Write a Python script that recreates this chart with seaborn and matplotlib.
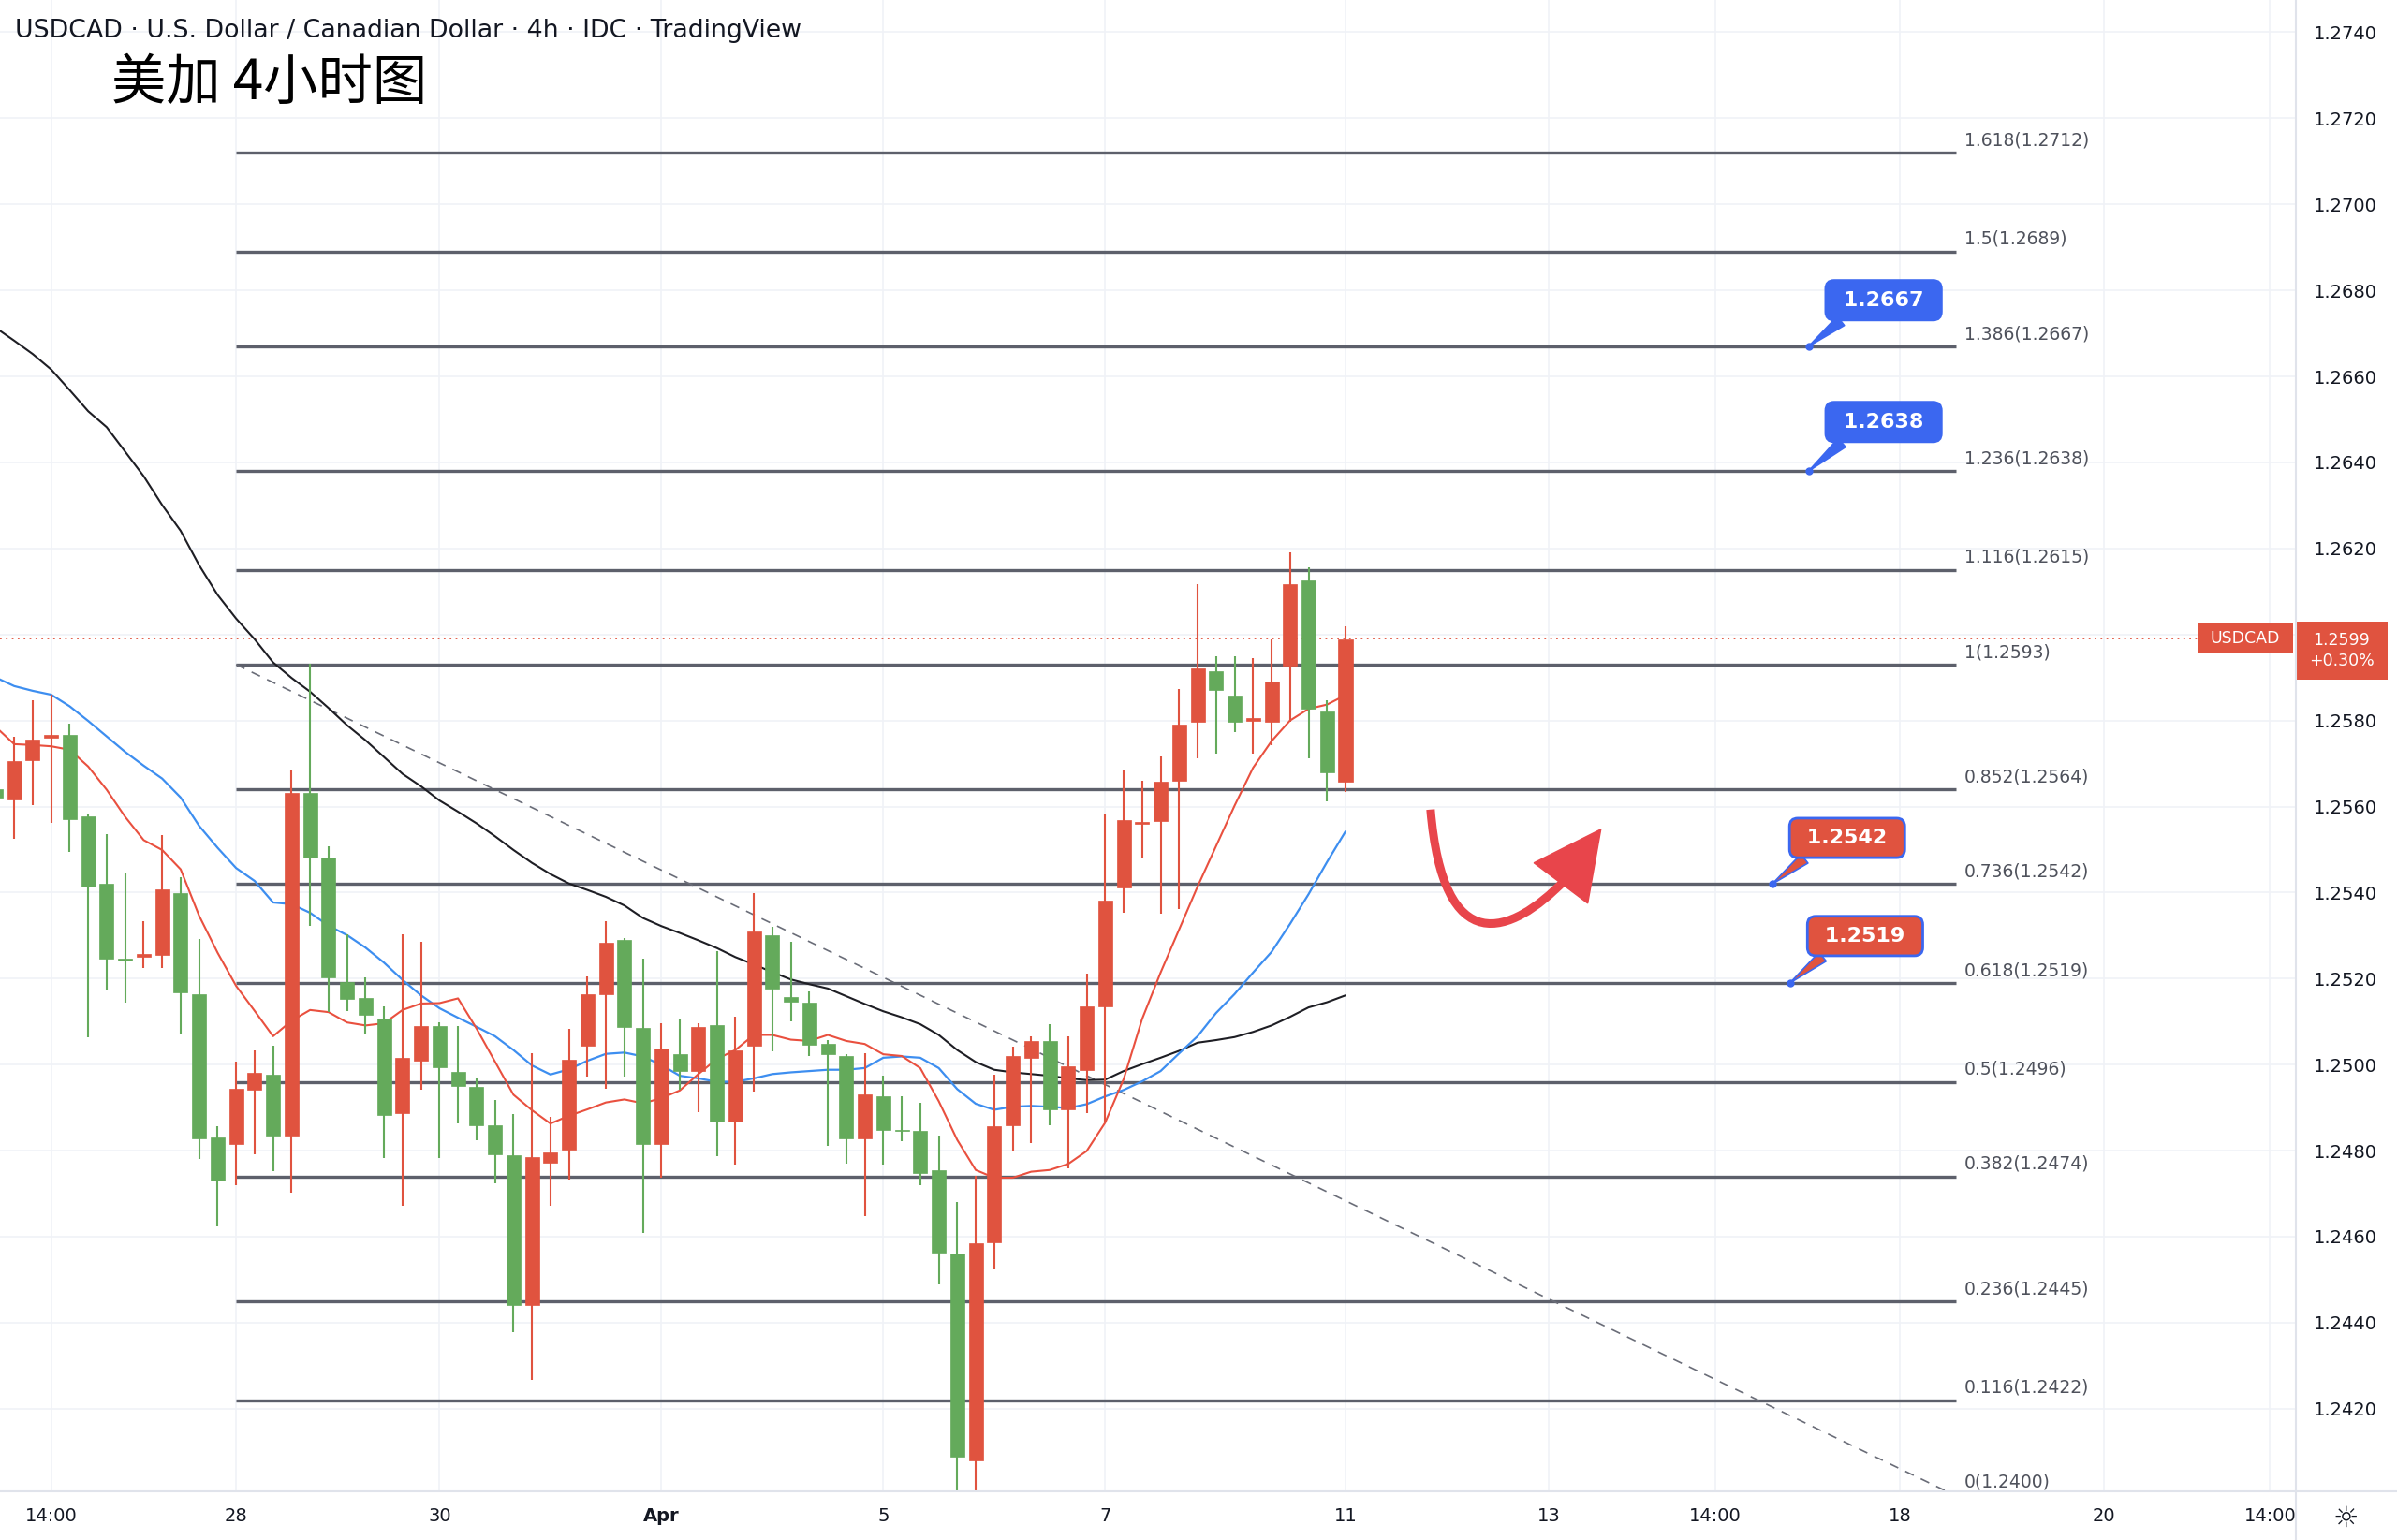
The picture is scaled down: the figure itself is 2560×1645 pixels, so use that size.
import numpy as np
import pandas as pd
import matplotlib
matplotlib.use("Agg")
import matplotlib.pyplot as plt
import matplotlib.transforms as mtransforms
from matplotlib.patches import PathPatch, Polygon, Rectangle
from matplotlib.lines import Line2D
from matplotlib.path import Path
import seaborn as sns

# === data: USDCAD 4h candles (red = up, green = down) ===
candle_idx = list(range(-1, 73))
opens = [1.25640, 1.25617, 1.25707, 1.25759, 1.25767, 1.25578, 1.25420, 1.25247, 1.25250, 1.25254,
         1.25399, 1.25163, 1.24831, 1.24816, 1.24942, 1.24976, 1.24834, 1.25631, 1.25482, 1.25192,
         1.25154, 1.25108, 1.24887, 1.25010, 1.25090, 1.24982, 1.24949, 1.24858, 1.24790, 1.24441,
         1.24771, 1.24802, 1.25043, 1.25163, 1.25290, 1.25085, 1.24815, 1.25024, 1.24985, 1.25092,
         1.24868, 1.25044, 1.25300, 1.25157, 1.25144, 1.25048, 1.25020, 1.24829, 1.24927, 1.24849,
         1.24846, 1.24754, 1.24560, 1.24079, 1.24587, 1.24860, 1.25016, 1.25055, 1.24895, 1.24988,
         1.25136, 1.25412, 1.25559, 1.25566, 1.25660, 1.25796, 1.25915, 1.25859, 1.25799, 1.25798,
         1.25927, 1.26125, 1.25821, 1.25658]
highs = [1.25660, 1.25763, 1.25847, 1.25860, 1.25793, 1.25582, 1.25535, 1.25445, 1.25334, 1.25534,
         1.25436, 1.25292, 1.24856, 1.25007, 1.25033, 1.25043, 1.25684, 1.25933, 1.25507, 1.25304,
         1.25203, 1.25135, 1.25302, 1.25286, 1.25098, 1.25089, 1.24967, 1.24917, 1.24885, 1.25027,
         1.24878, 1.25084, 1.25204, 1.25333, 1.25295, 1.25247, 1.25097, 1.25105, 1.25097, 1.25264,
         1.25111, 1.25398, 1.25320, 1.25286, 1.25170, 1.25058, 1.25024, 1.25027, 1.24974, 1.24927,
         1.24911, 1.24836, 1.24681, 1.24741, 1.24977, 1.25041, 1.25065, 1.25094, 1.25065, 1.25211,
         1.25584, 1.25685, 1.25660, 1.25717, 1.25874, 1.26117, 1.25950, 1.25950, 1.25944, 1.25989,
         1.26191, 1.26156, 1.25846, 1.26019]
lows = [1.25600, 1.25525, 1.25603, 1.25563, 1.25494, 1.25063, 1.25174, 1.25143, 1.25224, 1.25224,
        1.25073, 1.24781, 1.24623, 1.24719, 1.24792, 1.24752, 1.24703, 1.25323, 1.25122, 1.25124,
        1.25073, 1.24783, 1.24672, 1.24941, 1.24783, 1.24863, 1.24824, 1.24723, 1.24379, 1.24266,
        1.24672, 1.24732, 1.24973, 1.24943, 1.24972, 1.24609, 1.24737, 1.24941, 1.24890, 1.24787,
        1.24768, 1.24938, 1.25030, 1.25100, 1.25021, 1.24811, 1.24769, 1.24648, 1.24768, 1.24821,
        1.24720, 1.24489, 1.24003, 1.24007, 1.24525, 1.24798, 1.24818, 1.24860, 1.24759, 1.24888,
        1.24867, 1.25354, 1.25480, 1.25350, 1.25361, 1.25713, 1.25724, 1.25773, 1.25724, 1.25742,
        1.25796, 1.25713, 1.25612, 1.25633]
closes = [1.25620, 1.25705, 1.25756, 1.25767, 1.25570, 1.25413, 1.25247, 1.25242, 1.25257, 1.25407,
          1.25167, 1.24829, 1.24730, 1.24944, 1.24980, 1.24834, 1.25631, 1.25481, 1.25203, 1.25152,
          1.25116, 1.24883, 1.25015, 1.25090, 1.24994, 1.24951, 1.24858, 1.24792, 1.24441, 1.24786,
          1.24795, 1.25012, 1.25163, 1.25283, 1.25087, 1.24815, 1.25038, 1.24985, 1.25087, 1.24868,
          1.25034, 1.25310, 1.25177, 1.25147, 1.25046, 1.25024, 1.24829, 1.24931, 1.24849, 1.24845,
          1.24748, 1.24563, 1.24089, 1.24585, 1.24857, 1.25020, 1.25055, 1.24895, 1.24996, 1.25136,
          1.25381, 1.25568, 1.25565, 1.25657, 1.25791, 1.25922, 1.25870, 1.25796, 1.25806, 1.25891,
          1.26116, 1.25828, 1.25679, 1.25989]

# moving averages (red fast, blue medium, black slow)
ma_fast = [1.25785, 1.25745, 1.25743, 1.25740, 1.25732, 1.25693, 1.25639, 1.25576, 1.25522, 1.25499,
           1.25454, 1.25346, 1.25260, 1.25183, 1.25125, 1.25066, 1.25102, 1.25127, 1.25122, 1.25098,
           1.25091, 1.25096, 1.25127, 1.25142, 1.25143, 1.25154, 1.25084, 1.25007, 1.24930, 1.24894,
           1.24863, 1.24881, 1.24896, 1.24912, 1.24919, 1.24910, 1.24922, 1.24940, 1.24978, 1.25013,
           1.25034, 1.25069, 1.25069, 1.25058, 1.25055, 1.25069, 1.25055, 1.25048, 1.25024, 1.25020,
           1.24992, 1.24915, 1.24825, 1.24755, 1.24737, 1.24737, 1.24751, 1.24755, 1.24769, 1.24799,
           1.24865, 1.24966, 1.25106, 1.25214, 1.25314, 1.25414, 1.25508, 1.25602, 1.25690, 1.25752,
           1.25800, 1.25827, 1.25837, 1.25859]
ma_mid = [1.25900, 1.25880, 1.25869, 1.25860, 1.25833, 1.25799, 1.25763, 1.25727, 1.25695, 1.25665,
          1.25621, 1.25555, 1.25504, 1.25457, 1.25427, 1.25377, 1.25373, 1.25353, 1.25323, 1.25301,
          1.25272, 1.25237, 1.25197, 1.25161, 1.25131, 1.25109, 1.25088, 1.25066, 1.25034, 1.24998,
          1.24977, 1.24989, 1.25009, 1.25025, 1.25028, 1.25019, 1.24999, 1.24974, 1.24968, 1.24960,
          1.24960, 1.24968, 1.24978, 1.24982, 1.24985, 1.24988, 1.24988, 1.24992, 1.25016, 1.25019,
          1.25016, 1.24992, 1.24943, 1.24909, 1.24895, 1.24902, 1.24904, 1.24902, 1.24899, 1.24908,
          1.24926, 1.24941, 1.24961, 1.24985, 1.25026, 1.25066, 1.25120, 1.25164, 1.25214, 1.25262,
          1.25327, 1.25396, 1.25471, 1.25542]
ma_slow = [1.26713, 1.26683, 1.26652, 1.26616, 1.26568, 1.26519, 1.26482, 1.26425, 1.26368, 1.26301,
           1.26241, 1.26161, 1.26092, 1.26037, 1.25989, 1.25935, 1.25899, 1.25867, 1.25829, 1.25789,
           1.25754, 1.25715, 1.25676, 1.25647, 1.25614, 1.25588, 1.25561, 1.25531, 1.25499, 1.25469,
           1.25443, 1.25421, 1.25406, 1.25390, 1.25370, 1.25341, 1.25322, 1.25306, 1.25289, 1.25271,
           1.25250, 1.25233, 1.25215, 1.25198, 1.25187, 1.25177, 1.25159, 1.25141, 1.25124, 1.25110,
           1.25094, 1.25069, 1.25034, 1.25006, 1.24988, 1.24982, 1.24978, 1.24974, 1.24968, 1.24964,
           1.24965, 1.24985, 1.25001, 1.25016, 1.25032, 1.25051, 1.25057, 1.25064, 1.25076, 1.25091,
           1.25111, 1.25133, 1.25145, 1.25161]

# fibonacci extension levels
fib_labels = ["1.618(1.2712)", "1.5(1.2689)", "1.386(1.2667)", "1.236(1.2638)", "1.116(1.2615)",
              "1(1.2593)", "0.852(1.2564)", "0.736(1.2542)", "0.618(1.2519)", "0.5(1.2496)",
              "0.382(1.2474)", "0.236(1.2445)", "0.116(1.2422)", "0(1.2400)"]
fib_prices = [1.2712, 1.2689, 1.2667, 1.2638, 1.2615, 1.2593, 1.2564, 1.2542, 1.2519, 1.2496,
              1.2474, 1.2445, 1.2422, 1.2400]

trend_x = [12, 104.9]
trend_y = [1.2593, 1.2400]

last_price = 1.2599
last_change = "+0.30%"

xtick_pos = [2, 12, 23, 35, 47, 59, 72, 83, 92, 102, 113, 122]
xtick_labels = ["14:00", "28", "30", "Apr", "5", "7", "11", "13", "14:00", "18", "20", "14:00"]

# callouts: text, anchor (idx, price), box centre (idx, price), box colour, border colour
callouts = [
    ("1.2667", (97.05, 1.2667), (101.1, 1.26777), "#3b67f0", "#3b67f0"),
    ("1.2638", (97.05, 1.2638), (101.1, 1.26494), "#3b67f0", "#3b67f0"),
    ("1.2542", (95.08, 1.2542), (99.13, 1.25527), "#e0533f", "#3b67f0"),
    ("1.2519", (96.04, 1.2519), (100.1, 1.25299), "#e0533f", "#3b67f0"),
]

UP = "#e0533f"
DOWN = "#64aa5b"
ARROW_RED = "#e8454b"
TXT = "#131722"

df = pd.DataFrame({"idx": candle_idx, "open": opens, "high": highs, "low": lows, "close": closes,
                   "ma_fast": ma_fast, "ma_mid": ma_mid, "ma_slow": ma_slow})
df["color"] = np.where(df["close"] >= df["open"], UP, DOWN)

sns.set_theme(style="white")
plt.rcParams["font.family"] = ["DejaVu Sans", "Noto Sans CJK SC"]

W, H = 2560, 1645
fig = plt.figure(figsize=(W / 100, H / 100), dpi=100)
ax = fig.add_axes([0, 52 / H, 2452 / W, 1593 / H])
ax.set_xlim(-0.77, 123.4)
ax.set_ylim(1.24008, 1.27475)

# grid
yticks = np.round(np.arange(1.2420, 1.27401, 0.002), 4)
ax.set_yticks(yticks)
ax.set_xticks(xtick_pos)
ax.grid(True, color="#f0f2f7", lw=1.2)
ax.set_axisbelow(True)

# fib levels
ax.hlines(fib_prices, 12, 105, color="#5d606b", lw=2.4, zorder=2)
for lab, p in zip(fib_labels, fib_prices):
    ax.text(105.45, p + 0.00029, lab, fontsize=13.5, color="#4f525c", ha="left", va="center", zorder=3)

# trend line
ax.plot(trend_x, trend_y, ls=(0, (6, 5)), color="#6a6d78", lw=1.2, zorder=2)

# moving averages
sns.lineplot(data=df, x="idx", y="ma_slow", ax=ax, color="#1e1e24", lw=1.5, legend=False, zorder=3)
sns.lineplot(data=df, x="idx", y="ma_mid", ax=ax, color="#3d8ef0", lw=1.6, legend=False, zorder=3)
sns.lineplot(data=df, x="idx", y="ma_fast", ax=ax, color="#e9503f", lw=1.5, legend=False, zorder=3)

# candles
ax.vlines(df["idx"], df["low"], df["high"], colors=df["color"], lw=1.5, zorder=4)
body_lo = df[["open", "close"]].min(axis=1)
body_h = (df["close"] - df["open"]).abs().clip(lower=0.00003)
ax.bar(df["idx"], body_h, bottom=body_lo, width=0.76, color=df["color"], edgecolor=df["color"],
       lw=0.5, zorder=4)

# last price line
ax.axhline(last_price, color=UP, ls=(0, (1, 2.5)), lw=1.3, zorder=2)

# projected move arrow
curve = Path([(76.60, 1.25593), (77.29, 1.25241), (80.92, 1.25299), (83.87, 1.25429)],
             [Path.MOVETO, Path.CURVE4, Path.CURVE4, Path.CURVE4])
ax.add_patch(PathPatch(curve, fc="none", ec=ARROW_RED, lw=6.5, capstyle="butt", zorder=5))
ax.add_patch(Polygon([(85.81, 1.25547), (82.19, 1.25469), (85.10, 1.25375)], closed=True,
                     fc=ARROW_RED, ec=ARROW_RED, zorder=5))

# callouts
for txt, xy, xyt, fc, ec in callouts:
    ax.annotate(f" {txt} ", xy=xy, xytext=xyt, ha="center", va="center", color="white",
                fontsize=16, fontweight="bold", zorder=6,
                bbox=dict(boxstyle="round,pad=0.5,rounding_size=0.4", fc=fc, ec=ec, lw=2),
                arrowprops=dict(arrowstyle="wedge,tail_width=0.55,shrink_factor=0.5", fc=fc, ec=ec,
                                lw=1.2, shrinkA=0, shrinkB=0, relpos=(0.2, 0.0)))
    ax.plot(*xy, "o", ms=5, color="#3b67f0", zorder=7)

# axes styling: the price tag hides the scale label next to it, as in TradingView
ax.yaxis.tick_right()
ax.set_yticklabels(["" if abs(t - last_price) < 0.0005 else f"{t:.4f}" for t in yticks])
ax.set_xticklabels(xtick_labels)
ax.tick_params(axis="y", length=0, pad=13.7, labelsize=14, labelcolor=TXT)
ax.tick_params(axis="x", length=0, pad=12, labelsize=14, labelcolor=TXT)
for t in ax.get_xticklabels():
    if t.get_text() == "Apr":
        t.set_fontweight("bold")
ax.set_xlabel("")
ax.set_ylabel("")
for s in ["top", "left", "right", "bottom"]:
    ax.spines[s].set_visible(False)
fig.add_artist(Line2D([2452 / W] * 2, [0, 1], transform=fig.transFigure, color="#e0e3eb", lw=1.5))
fig.add_artist(Line2D([0, 1], [52 / H] * 2, transform=fig.transFigure, color="#e0e3eb", lw=1.5))

# last price tags
tr = mtransforms.blended_transform_factory(fig.transFigure, ax.transData)
ax.add_patch(Rectangle((2348 / W, last_price - 0.00034), 101 / W, 0.00069, transform=tr,
                       fc=UP, ec="none", clip_on=False, zorder=8))
ax.text(2398 / W, last_price, "USDCAD", transform=tr, color="white", fontsize=12.5,
        ha="center", va="center", clip_on=False, zorder=9)
ax.add_patch(Rectangle((2453 / W, 1.25895), 97 / W, 0.00134, transform=tr,
                       fc=UP, ec="none", clip_on=False, zorder=8))
ax.text(2501 / W, 1.25962, f"{last_price:.4f}\n{last_change}", transform=tr, color="white",
        fontsize=12.5, ha="center", va="center", linespacing=1.3, clip_on=False, zorder=9)

# titles
fig.text(16 / W, 1 - 33 / H, "USDCAD · U.S. Dollar / Canadian Dollar · 4h · IDC · TradingView",
         fontsize=19.3, color=TXT, ha="left", va="center")
fig.text(119 / W, 1 - 89 / H, "美加 4小时图", fontsize=42, color="black", ha="left", va="center",
         family=["Noto Sans CJK SC", "DejaVu Sans"])
fig.text(2505 / W, 1 - 1622 / H, "☼", fontsize=22, color=TXT, ha="center", va="center")

fig.savefig("out.png", dpi=100, facecolor="white")
plt.close(fig)
